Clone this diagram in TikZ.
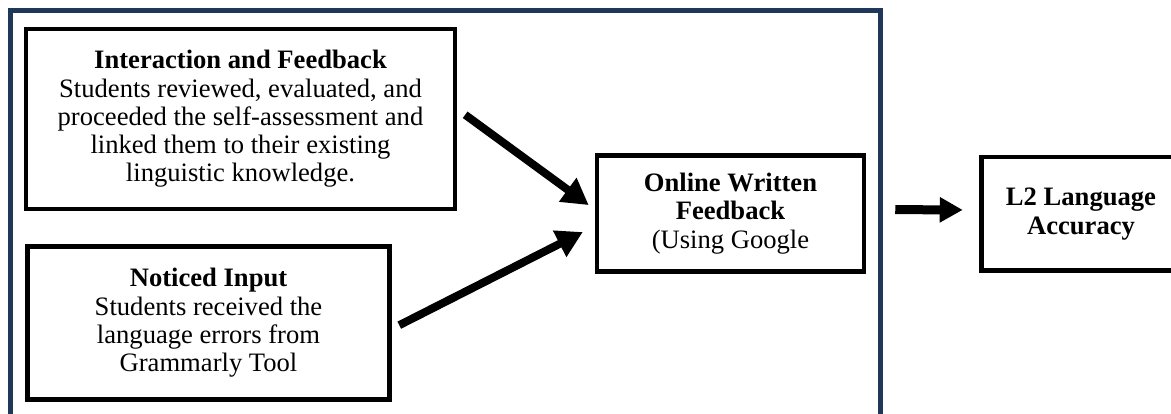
\documentclass[tikz,border=0pt]{standalone}
\usepackage{fontspec}
\setmainfont{Liberation Serif}
\usetikzlibrary{arrows.meta,shadows}
\definecolor{framenavy}{RGB}{31,56,90}

\begin{document}
\begin{tikzpicture}[x=1pt,y=-1pt]
			\tikzset{every node/.style={align=center,font=\fontsize{26.6}{28.3}\selectfont}}
			\tikzset{textbox/.style={draw,line width=4.5pt,fill=white,rectangle,inner sep=0pt,drop shadow={opacity=0.18,shadow xshift=1.5pt,shadow yshift=-1.5pt}}}
			\tikzset{flowarrow/.style={line width=8pt,-{Triangle[length=26pt,width=28pt]}}}
			\path[use as bounding box,clip] (0,0) rectangle (1171,414);
			\fill[white] (0,0) rectangle (1171,414);
			\draw[framenavy,line width=4.5pt] (10.5,440) -- (10.5,10.5) -- (880.5,10.5) -- (880.5,440);
			\node[textbox,minimum width=429pt,minimum height=180pt] (ifb) at (240.5,119) {\textbf{Interaction and Feedback}\\Students reviewed, evaluated, and\\proceeded the self-assessment and\\linked them to their existing\\linguistic knowledge.};
			\node[textbox,minimum width=362pt,minimum height=153pt] (nis) at (208.5,323) {\textbf{Noticed Input}\\Students received the\\language errors from\\Grammarly Tool};
			\node[textbox,minimum width=267pt,minimum height=116pt] (owf) at (730.5,213.5) {\textbf{Online Written}\\\textbf{Feedback}\\(Using Google};
			\node[textbox,minimum width=199pt,minimum height=113.5pt] (l2a) at (1081,214) {\textbf{L2 Language}\\\textbf{Accuracy}};
			\draw[flowarrow,shorten <=9.8pt,shorten >=7.5pt] ([yshift=10pt]ifb.east) -- ([yshift=4pt]owf.west);
			\draw[flowarrow,shorten <=8.4pt,shorten >=13.4pt] ([yshift=-6pt]nis.east) -- ([yshift=-12.5pt]owf.west);
			\draw[flowarrow,-{Triangle[length=23pt,width=24pt]},line width=9pt,shorten <=29pt,shorten >=16.5pt] ([yshift=4pt]owf.east) -- ([yshift=4pt]l2a.west);
		\end{tikzpicture}
\end{document}
